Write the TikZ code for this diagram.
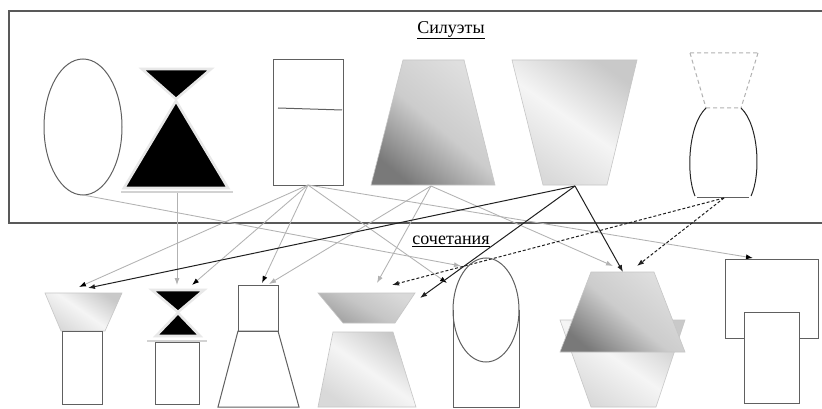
\documentclass[tikz,border=0pt]{standalone}
\usepackage{fontspec}
\setmainfont{Liberation Serif}
\usetikzlibrary{arrows.meta}
\begin{document}
\begin{tikzpicture}[x=1pt,y=-1pt,
  outl/.style={draw=gray!75!black, line width=1pt},
  frame/.style={draw=gray!70!black, line width=1.2pt},
  halo/.style={draw=gray!18, line width=2.6pt, fill=black, line join=miter},
  haloline/.style={draw=gray!35, line width=1.6pt},
  tip/.style={-{Latex[length=7pt,width=5pt]}},
  conn/.style={draw=gray!60, line width=0.85pt, tip},
  connk/.style={draw=gray!60, line width=0.85pt, -{Latex[length=7pt,width=5pt,color=black]}},
  connd/.style={draw=gray!25!black, line width=1pt, tip},
  dconn/.style={draw=gray!25!black, line width=1pt, dash pattern=on 3pt off 2pt, tip},
  darkshade/.style={top color=gray!25, bottom color=gray!95!black, middle color=gray!40, shading angle=-40},
  lightshade/.style={top color=gray!42, bottom color=gray!30, middle color=gray!8, shading angle=-35},
  edge/.style={draw=gray!45, line width=0.6pt},
  lbl/.style={font=\fontsize{18}{20}\selectfont, inner sep=0pt}
]
\useasboundingbox (0,0) rectangle (822,409);
\fill[white] (0,0) rectangle (822,409);

% frame
\draw[frame] (822,11) -- (9,11) -- (9,223) -- (822,223);
\node[lbl] (t1) at (451,30) {\underline{Силуэты}};

% ---- top silhouettes ----
\draw[outl] (83,127) ellipse [x radius=39, y radius=68];

\draw[halo] (142,69) -- (211,69) -- (176,99) -- cycle;
\draw[halo] (176,101) -- (228,188) -- (124,188) -- cycle;
\draw[haloline] (121,192) -- (233,192);

\draw[outl] (273,60) rectangle (343,185);
\draw[outl] (278,108) -- (342,110);

\shade[darkshade] (403,60) -- (464,60) -- (495,185) -- (371,185) -- cycle;
\draw[edge] (403,60) -- (464,60) -- (495,185) -- (371,185) -- cycle;

\shade[lightshade] (512,60) -- (637,60) -- (607,185) -- (543,185) -- cycle;
\draw[edge] (512,60) -- (637,60) -- (607,185) -- (543,185) -- cycle;

\draw[draw=gray!60, line width=1pt, dash pattern=on 4pt off 3pt]
  (690,53) -- (758,53) (690,53) -- (706,108) (758,53) -- (741,108) (706,108) -- (741,108);
\draw[outl, draw=gray!30!black] (706,108) .. controls (688,125) and (686,175) .. (695,196);
\draw[outl, draw=gray!30!black] (741,108) .. controls (759,125) and (761,175) .. (751,196);
\draw[outl] (697,197) -- (749,197);

% ---- anchors ----
\coordinate (ellB) at (83,195);
\coordinate (hgB) at (177,193);
\coordinate (rectB) at (308,185);
\coordinate (dtB) at (431,186);
\coordinate (itB) at (575,186);
\coordinate (vaseB) at (724,198);

\coordinate (e1a) at (79,287);
\coordinate (e1b) at (88,288);
\coordinate (e2a) at (177,285);
\coordinate (e2b) at (192,285);
\coordinate (e3a) at (262,283);
\coordinate (e3b) at (269,284);
\coordinate (e4a) at (377,283);
\coordinate (e4b) at (392,285);
\coordinate (e4c) at (420,298);
\coordinate (e5a) at (447,283);
\coordinate (e5b) at (461,266);
\coordinate (e6a) at (613,266);
\coordinate (e6b) at (623,272);
\coordinate (e6c) at (637,266);
\coordinate (e7) at (753,258);

\node[lbl] (t2) at (451,241) {\underline{сочетания}};

% ---- connectors ----
\draw[conn] (ellB) -- (e5b);
\draw[conn] (hgB) -- (e2a);
\draw[connk] (rectB) -- (e1a);
\draw[connk] (rectB) -- (e2b);
\draw[connk] (rectB) -- (e3a);
\draw[connk] (rectB) -- (e5a);
\draw[connk] (rectB) -- (e7);
\draw[conn] (dtB) -- (e3b);
\draw[conn] (dtB) -- (e4a);
\draw[conn] (dtB) -- (e6a);
\draw[connd] (itB) -- (e1b);
\draw[connd] (itB) -- (e4c);
\draw[connd] (itB) -- (e6b);
\draw[dconn] (vaseB) -- (e4b);
\draw[dconn] (vaseB) -- (e6c);

% ---- bottom combinations ----
% B1
\shade[lightshade] (45,293) -- (122,293) -- (105,331) -- (61,331) -- cycle;
\draw[edge] (45,293) -- (122,293) -- (105,331) -- (61,331) -- cycle;
\draw[outl] (62,331) rectangle (102,404);

% B2
\draw[halo] (152,290) -- (204,290) -- (178,312) -- cycle;
\draw[halo] (178,313) -- (200,336) -- (156,336) -- cycle;
\draw[haloline] (147,341) -- (207,341);
\draw[outl] (155,342) rectangle (199,404);

% B3
\draw[outl] (238,285) rectangle (278,331);
\draw[outl] (238,331) -- (278,331) -- (299,407) -- (218,407) -- cycle;

% B4
\shade[top color=gray!30, bottom color=gray!75, middle color=gray!45, shading angle=-30]
  (318,293) -- (415,293) -- (395,323) -- (343,323) -- cycle;
\draw[edge] (318,293) -- (415,293) -- (395,323) -- (343,323) -- cycle;
\shade[lightshade] (333,332) -- (393,332) -- (416,407) -- (318,407) -- cycle;
\draw[edge] (333,332) -- (393,332) -- (416,407) -- (318,407) -- cycle;

% B5
\draw[outl] (453,310) -- (453,407) -- (519,407) -- (519,310);
\draw[outl] (486,310) ellipse [x radius=33, y radius=52];

% B6
\shade[lightshade] (560,320) -- (685,320) -- (656,407) -- (591,407) -- cycle;
\draw[edge] (560,320) -- (685,320) -- (656,407) -- (591,407) -- cycle;
\shade[darkshade] (591,272) -- (654,272) -- (685,352) -- (560,352) -- cycle;
\draw[edge] (591,272) -- (654,272) -- (685,352) -- (560,352) -- cycle;

% B7
\draw[outl] (725,259) rectangle (818,338);
\draw[outl, fill=white] (744,312) rectangle (799,403);
\end{tikzpicture}
\end{document}
